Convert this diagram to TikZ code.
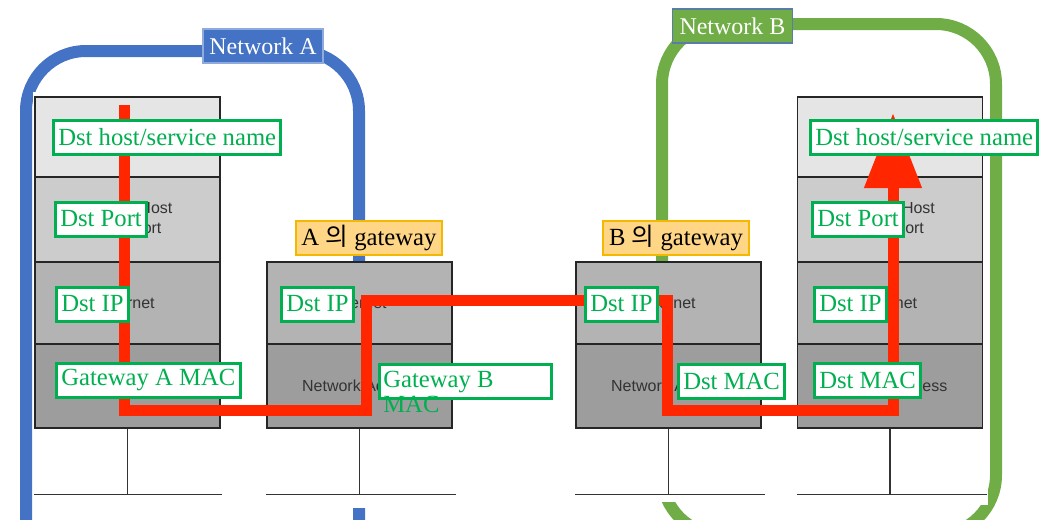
\documentclass[tikz,border=0pt]{standalone}
\usepackage{fontspec}
\setmainfont{Liberation Serif}
\newfontfamily\krfont{Noto Sans CJK KR}
\newfontfamily\stackfont{Liberation Sans}
\usepackage{tikz}
\usetikzlibrary{arrows.meta}
\definecolor{netblue}{HTML}{4472C4}
\definecolor{netgreen}{HTML}{70AD47}
\definecolor{netBline}{HTML}{5A7DA8}
\definecolor{taggreen}{HTML}{00B050}
\definecolor{routered}{HTML}{FF2600}
\definecolor{gwfill}{HTML}{FFD685}
\definecolor{gwdraw}{HTML}{F4B800}
\definecolor{lay1}{HTML}{E5E5E5}
\definecolor{lay2}{HTML}{CCCCCC}
\definecolor{lay3}{HTML}{B3B3B3}
\definecolor{lay4}{HTML}{9D9D9D}

\begin{document}
\begin{tikzpicture}[x=0.75pt, y=-0.75pt,
        netbox/.style={line width=9pt, rounded corners=45pt},
        netlabel/.style={draw, line width=0.8pt, text=white, minimum width=90pt, minimum height=25.5pt, inner sep=2pt, font=\fontsize{18}{20}\selectfont},
        layer/.style={draw=black!85, line width=1.1pt, minimum width=138.75pt, align=center, text=black!80, font=\stackfont\fontsize{12}{15}\selectfont},
        wire/.style={draw=black!80, line width=1.1pt},
        route/.style={draw=routered, line width=8.25pt, -{Triangle[length=56.25pt, width=41.25pt]}},
        tag/.style={draw=taggreen, line width=2.25pt, fill=white, text=taggreen, inner xsep=3.6pt, inner ysep=1pt, minimum height=25.5pt, font=\fontsize{18.5}{18.8}\selectfont},
        gwtag/.style={draw=gwdraw, line width=0.8pt, fill=gwfill, minimum width=109.5pt, minimum height=25.5pt, inner sep=1pt, font=\fontsize{18.5}{20}\selectfont}
    ]
        \useasboundingbox (0,0) rectangle (1047,519);
        \clip (0,0) rectangle (1047,519);

        % networks
        \draw[netbox, draw=netblue] (26,51) rectangle (359,620);
        \draw[netbox, draw=netgreen] (662,24) rectangle (996,535);

        % host A
        \fill[white] (33,92) rectangle (226,505);
        \node[layer, fill=lay1, minimum height=60pt] (hA1) at (127.5,137) {};
        \node[layer, fill=lay2, minimum height=63.75pt] (hA2) at (127.5,219.5) {Host-to-Host\\Transport};
        \node[layer, fill=lay3, minimum height=61.5pt] (hA3) at (127.5,303) {Internet};
        \node[layer, fill=lay4, minimum height=63pt] (hA4) at (127.5,386) {Network Access};
        \draw[wire] (hA4.south) -- ++(0,66) coordinate (hAbus);
        \draw[wire] (hA4.west |- hAbus) -- ++(188,0);

        % gateway A
        \fill[white] (262,262) rectangle (460,508);
        \node[layer, fill=lay3, minimum height=61.5pt] (gA3) at (359.5,303) {Internet};
        \node[layer, fill=lay4, minimum height=63pt] (gA4) at (359.5,386) {Network Access};
        \draw[wire] (gA4.south) -- ++(0,66) coordinate (gAbus);
        \draw[wire] (gA4.west |- gAbus) -- ++(190,0);

        % gateway B
        \fill[white] (571,262) rectangle (768,502);
        \node[layer, fill=lay3, minimum height=61.5pt] (gB3) at (668.5,303) {Internet};
        \node[layer, fill=lay4, minimum height=63pt] (gB4) at (668.5,386) {Network Access};
        \draw[wire] (gB4.south) -- ++(0,66) coordinate (gBbus);
        \draw[wire] (gB4.west |- gBbus) -- ++(190,0);

        % host B
        \fill[white] (793,92) rectangle (988,505);
        \node[layer, fill=lay1, minimum height=60pt] (hB1) at (890,137) {};
        \node[layer, fill=lay2, minimum height=63.75pt] (hB2) at (890,219.5) {Host-to-Host\\Transport};
        \node[layer, fill=lay3, minimum height=61.5pt] (hB3) at (890,303) {Internet};
        \node[layer, fill=lay4, minimum height=63pt] (hB4) at (890,386) {Network Access};
        \draw[wire] (hB4.south) -- ++(0,66) coordinate (hBbus);
        \draw[wire] (hB4.west |- hBbus) -- ++(190,0);

        % route
        \coordinate (src) at (124,105);
        \coordinate (upA) at (366,300);
        \coordinate (downB) at (667,410);
        \coordinate (dst) at (893,113);
        \draw[route] (src) |- (upA |- downB) -- (upA) -| (downB) -- (dst |- downB) -- (dst);

        % network labels
        \node[netlabel, fill=netblue, draw=netblue!60!white] (netA) at (263,46) {Network A};
        \node[netlabel, fill=netgreen, draw=netBline] (netB) at (732.5,26) {Network B};

        % gateway labels
        \node[gwtag] (gwA) at (369,238) {A {\krfont 의} gateway};
        \node[gwtag] (gwB) at (676,238) {B {\krfont 의} gateway};

        % header fields
        \node[tag, anchor=west] (aName) at (52,137.5) {Dst host/service name};
        \node[tag, anchor=west] (aPort) at (54,219) {Dst Port};
        \node[tag, anchor=west] (aIP) at (55,304) {Dst IP};
        \node[tag, anchor=west] (aMAC) at (55,380) {Gateway A MAC};

        \node[tag, anchor=west] (gaIP) at (280,304) {Dst IP};
        \node[tag, anchor=west, minimum width=129pt] (gaMAC) at (378,381) {};
        \node[anchor=north west, align=left, inner sep=0pt, text=taggreen, font=\fontsize{18.5}{18.8}\selectfont] (gaMACtext) at (383,371) {Gateway B\\MAC};

        \node[tag, anchor=west] (gbIP) at (584,304) {Dst IP};
        \node[tag, anchor=west] (gbMAC) at (677,381) {Dst MAC};

        \node[tag, anchor=west] (bName) at (809,137) {Dst host/service name};
        \node[tag, anchor=west] (bPort) at (811,219) {Dst Port};
        \node[tag, anchor=west] (bIP) at (813,304) {Dst IP};
        \node[tag, anchor=west] (bMAC) at (813,380) {Dst MAC};

    \end{tikzpicture}
\end{document}
